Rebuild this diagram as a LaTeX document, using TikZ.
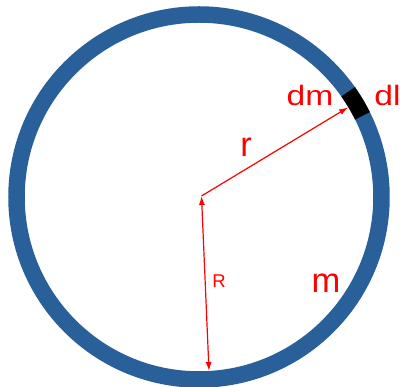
\documentclass[tikz,border=0pt]{standalone}
\usepackage{fontspec}
\setmainfont{Liberation Sans}
\usepackage{graphicx}
\usepackage{tikz}
\usetikzlibrary{arrows.meta}
\definecolor{ringblue}{RGB}{42,96,153}
\tikzset{
  lbl/.style={red, inner sep=0pt, anchor=base},
  radarrow/.style={red, line width=1.2pt, -{Latex[length=9pt,width=6pt]}}
}

\begin{document}
\begin{tikzpicture}[x=1pt, y=1pt]
\useasboundingbox (-199,-190) rectangle (201,197);
\draw[ringblue, line width=16.5pt] (0,0) circle (182.5);
\draw[black, line width=16.5pt] (26.4:182.5) arc[start angle=26.4, end angle=35.2, radius=182.5];
\coordinate (O) at (2.5,1);
\coordinate (dmin) at (31:174);
\coordinate (Rbot) at (10,-174);
\draw[radarrow] (O) -- (dmin);
\draw[radarrow, {Latex[length=9pt,width=6pt]}-{Latex[length=9pt,width=6pt]}] (O) -- (Rbot);
\node[lbl, font=\fontsize{28}{32}\selectfont] (dm) at (111,91) {\scalebox{1.2}[1]{dm}};
\node[lbl, font=\fontsize{28}{32}\selectfont] (dl) at (188.5,91) {\scalebox{1.2}[1]{dl}};
\node[lbl, font=\fontsize{34.5}{40}\selectfont] (r) at (47,40.3) {r};
\node[lbl, font=\fontsize{34.5}{40}\selectfont] (m) at (127,-95.3) {m};
\node[lbl, font=\fontsize{18.5}{22}\selectfont] (R) at (20,-90.3) {R};
\end{tikzpicture}
\end{document}
